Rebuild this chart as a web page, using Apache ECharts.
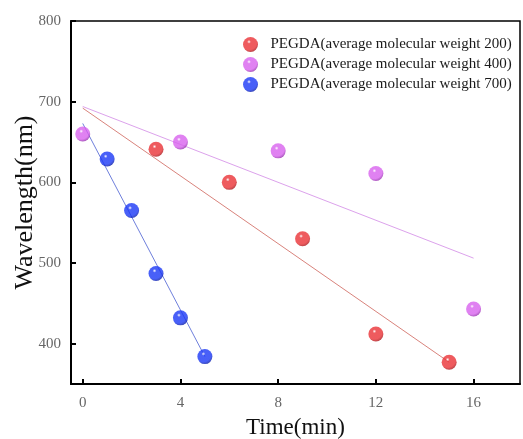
<!DOCTYPE html>
<html>
<head>
<meta charset="utf-8">
<script src="https://cdn.jsdelivr.net/npm/echarts@6/dist/echarts.min.js"></script>
<style>
  html, body { margin: 0; padding: 0; background: #fff; }
  #chart { width: 523px; height: 439px; }
</style>
</head>
<body>
<div id="chart"></div>
<script>
// Measurements: time (min) and reflected wavelength (nm) for each PEGDA grade
const names = [
  'PEGDA(average molecular weight 200)',
  'PEGDA(average molecular weight 400)',
  'PEGDA(average molecular weight 700)'
];
const time200 = [3, 6, 9, 12, 15];
const wave200 = [641, 600, 530, 412, 377];
const time400 = [0, 4, 8, 12, 16];
const wave400 = [660, 650, 639, 611, 443];
const time700 = [1, 2, 3, 4, 5];
const wave700 = [629, 565, 487, 432, 384];

// Trend line end points (time, wavelength)
const trend200 = [[0, 692], [15, 377]];
const trend400 = [[0, 694], [16, 506]];
const trend700 = [[0, 673], [5, 384]];

// Axis tick values
const xTicks = [0, 4, 8, 12, 16];
const yTicks = [400, 500, 600, 700, 800];

const markerColors = ['#ea3236', '#d862ee', '#1b38f6'];
const darkColors = ['#a8151a', '#9530ad', '#0a1ca6'];
const trendColors = ['#d9837c', '#dca2ec', '#6f80dc'];

function sphere(i) {
  return new echarts.graphic.RadialGradient(0.4, 0.32, 0.7, [
    { offset: 0, color: '#ffffff' },
    { offset: 0.18, color: markerColors[i] },
    { offset: 0.75, color: markerColors[i] },
    { offset: 1, color: darkColors[i] }
  ]);
}

function zip(xs, ys) { return xs.map((x, k) => [x, ys[k]]); }

const serif = '"Liberation Serif", "DejaVu Serif", serif';
const chart = echarts.init(document.getElementById('chart'), null, { renderer: 'canvas' });

const trends = [trend200, trend400, trend700];
const points = [zip(time200, wave200), zip(time400, wave400), zip(time700, wave700)];

const series = [];
trends.forEach((t, i) => {
  series.push({
    type: 'line',
    name: 'trend' + i,
    data: t,
    symbol: 'none',
    silent: true,
    z: 1,
    lineStyle: { color: trendColors[i], width: 1 }
  });
});
points.forEach((p, i) => {
  series.push({
    type: 'scatter',
    name: names[i],
    data: p,
    symbol: 'circle',
    symbolSize: 15,
    z: 3,
    itemStyle: { color: sphere(i) }
  });
});

chart.setOption({
  animation: false,
  backgroundColor: '#ffffff',
  grid: {
    left: 71, right: 3, top: 21, bottom: 55,
    outerBoundsMode: 'none',
    containLabel: false,
    show: true,
    borderColor: '#000',
    borderWidth: 1.5
  },
  legend: {
    data: names,
    orient: 'vertical',
    left: 238,
    top: 32,
    itemWidth: 30,
    itemHeight: 15,
    itemGap: 5,
    icon: 'circle',
    textStyle: { fontFamily: serif, fontSize: 15, color: '#1a1a1a' }
  },
  xAxis: {
    type: 'value',
    min: -0.48,
    max: 17.9,
    name: 'Time(min)',
    nameLocation: 'middle',
    nameGap: 32,
    nameMoveOverlap: false,
    nameTextStyle: { fontFamily: serif, fontSize: 23, color: '#111' },
    axisLine: { show: true, onZero: false, lineStyle: { color: '#000', width: 2 } },
    axisTick: { show: true, inside: true, length: 5, customValues: xTicks, lineStyle: { color: '#000', width: 2 } },
    axisLabel: { customValues: xTicks, fontFamily: serif, fontSize: 15, color: '#666', margin: 12 },
    splitLine: { show: false }
  },
  yAxis: {
    type: 'value',
    min: 350,
    max: 800,
    name: 'Wavelength(nm)',
    nameLocation: 'middle',
    nameGap: 33,
    nameMoveOverlap: false,
    nameTextStyle: { fontFamily: serif, fontSize: 26, color: '#111' },
    axisLine: { show: true, onZero: false, lineStyle: { color: '#000', width: 2 } },
    axisTick: { show: true, inside: true, length: 5, customValues: yTicks, lineStyle: { color: '#000', width: 2 } },
    axisLabel: { customValues: yTicks, fontFamily: serif, fontSize: 15, color: '#666', margin: 10 },
    splitLine: { show: false }
  },
  series: series
});
</script>
</body>
</html>
